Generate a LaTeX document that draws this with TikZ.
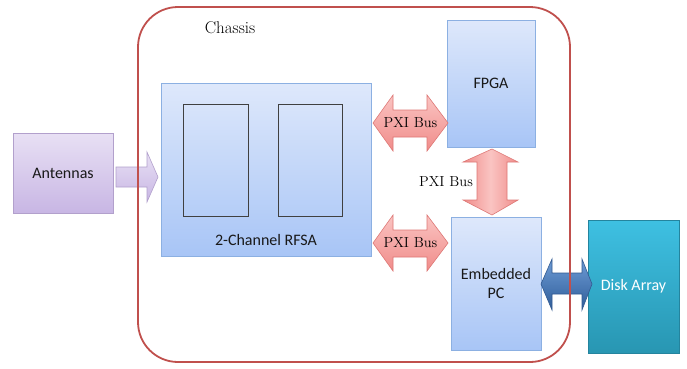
\documentclass[tikz,border=0pt]{standalone}
\usepackage{fontspec}
\newfontfamily\calibri{Carlito}
\definecolor{bluetop}{RGB}{222,232,251}
\definecolor{bluebot}{RGB}{168,197,246}
\definecolor{blueedge}{RGB}{140,176,226}
\definecolor{purtop}{RGB}{232,224,244}
\definecolor{purbot}{RGB}{200,182,228}
\definecolor{puredge}{RGB}{178,160,204}
\definecolor{pinktop}{RGB}{250,196,194}
\definecolor{pinkbot}{RGB}{240,140,138}
\definecolor{pinkedge}{RGB}{222,120,118}
\definecolor{tealtop}{RGB}{62,192,226}
\definecolor{tealbot}{RGB}{40,150,178}
\definecolor{tealedge}{RGB}{36,132,158}
\definecolor{darkbtop}{RGB}{110,156,214}
\definecolor{darkbbot}{RGB}{46,92,152}
\definecolor{darkbedge}{RGB}{50,90,145}
\definecolor{chassisred}{RGB}{192,80,77}
\definecolor{txt}{RGB}{25,25,25}
\tikzset{
  bluebox/.style={draw=blueedge, line width=0.8pt, top color=bluetop, bottom color=bluebot, text=txt, font=\calibri\fontsize{16}{19}\selectfont, align=center},
  purbox/.style={draw=puredge, line width=0.8pt, top color=purtop, bottom color=purbot, text=txt, font=\calibri\fontsize{16}{19}\selectfont},
  tealbox/.style={draw=tealedge, line width=0.8pt, top color=tealtop, bottom color=tealbot, text=white, font=\calibri\fontsize{16}{19}\selectfont},
  pinkarrow/.style={draw=pinkedge, line width=0.6pt, top color=pinktop, bottom color=pinkbot},
  pinkarrowv/.style={draw=pinkedge, line width=0.6pt, left color=pinkbot, right color=pinkbot, middle color=pinktop},
  purarrow/.style={draw=puredge, line width=0.6pt, top color=purtop, bottom color=purbot},
  bluearrow/.style={draw=darkbedge, line width=0.6pt, top color=darkbtop, bottom color=darkbbot},
  inner/.style={draw=black!75, line width=0.7pt},
  serlabel/.style={font=\fontsize{14.5}{17}\selectfont, text=black},
}
\begin{document}
\begin{tikzpicture}[x=1pt, y=-1pt]
\useasboundingbox (0,0) rectangle (687,368);
\fill[white] (0,0) rectangle (687,368);

% boxes
\node[purbox, minimum width=100pt, minimum height=80pt] (ant) at (63,173) {Antennas};
\node[bluebox, minimum width=210pt, minimum height=173pt] (rfsa) at (266,169.5) {};
\node[inner, minimum width=65pt, minimum height=112pt] (ch1) at (215.5,160) {};
\node[inner, minimum width=64pt, minimum height=112pt] (ch2) at (310,160) {};
\node[font=\calibri\fontsize{16}{19}\selectfont, text=txt] (rfsalbl) at (266,240) {2-Channel RFSA};
\node[bluebox, minimum width=88pt, minimum height=127pt] (fpga) at (491,83.5) {FPGA};
\node[bluebox, minimum width=90pt, minimum height=133pt] (pc) at (496,283.5) {Embedded\\PC};
\node[tealbox, minimum width=91pt, minimum height=133pt] (disk) at (633.5,286.5) {Disk Array};

% purple arrow antennas -> rfsa
\draw[purarrow] (116,167) -- (147,167) -- (147,152) -- (158,177) -- (147,202) -- (147,187) -- (116,187) -- cycle;

% PXI arrows horizontal
\draw[pinkarrow] (373,123) -- (393,95) -- (393,110) -- (427,110) -- (427,95) -- (448,123) -- (427,151) -- (427,137) -- (393,137) -- (393,151) -- cycle;
\node[serlabel] (pxi1) at (410.5,123) {PXI Bus};
\draw[pinkarrow] (373,243) -- (393,215) -- (393,230) -- (427,230) -- (427,215) -- (448,243) -- (427,271) -- (427,257) -- (393,257) -- (393,271) -- cycle;
\node[serlabel] (pxi2) at (410.5,243) {PXI Bus};

% PXI arrow vertical
\draw[pinkarrowv] (492,149) -- (518,162) -- (507,162) -- (507,200) -- (518,200) -- (492,215) -- (463,200) -- (477,200) -- (477,162) -- (463,162) -- cycle;
\node[serlabel] (pxi3) at (446,182) {PXI Bus};

% blue arrow pc <-> disk
\draw[bluearrow] (541,284) -- (552,259) -- (552,273) -- (582,273) -- (582,259) -- (592,284) -- (582,310) -- (582,294) -- (552,294) -- (552,310) -- cycle;

% chassis
\draw[chassisred, line width=1.8pt, rounded corners=40pt] (138,7) rectangle (570,362);
\node[font=\fontsize{17}{20}\selectfont, text=black] (chassis) at (230,28) {Chassis};
\end{tikzpicture}
\end{document}
